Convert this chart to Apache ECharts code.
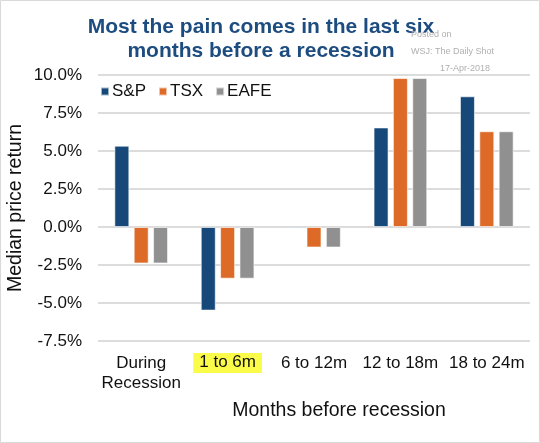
<!DOCTYPE html>
<html><head><meta charset="utf-8">
<script src="https://cdn.jsdelivr.net/npm/echarts@6/dist/echarts.min.js"></script>
<style>html,body{margin:0;padding:0;background:#fff}#c{width:540px;height:443px}</style>
</head><body><div id="c"></div>
<script>
const categories = ['During\nRecession', '1 to 6m', '6 to 12m', '12 to 18m', '18 to 24m'];
const spValues = [5.35, -5.5, -0.1, 6.55, 8.6];
const tsxValues = [-2.4, -3.4, -1.35, 9.8, 6.3];
const eafeValues = [-2.4, -3.4, -1.35, 9.8, 6.3];
const seriesNames = ['S&P', 'TSX', 'EAFE'];
const colors = ['#164879', '#dd6a26', '#909090'];

const chart = echarts.init(document.getElementById('c'));
const font = 'Liberation Sans, Arial, sans-serif';
const mk = (name, data, color) => ({
  name, type: 'bar', data, barWidth: 15, barGap: '29%',
  itemStyle: { color, borderColor: 'rgba(255,255,255,0.6)', borderWidth: 1 }
});
const wm = { fontFamily: font, fontSize: 9, fontWeight: 'normal', color: '#b0b0b0' };
chart.setOption({
  animation: false,
  color: colors,
  title: [
    { text: 'Most the pain comes in the last six\nmonths before a recession', left: 256, top: 10, textAlign: 'center',
      textStyle: { fontFamily: font, fontSize: 21, fontWeight: 'bold', color: '#1d4d80', lineHeight: 24 } },
    { text: 'Posted on', left: 406, top: 25, textStyle: wm },
    { text: 'WSJ: The Daily Shot', left: 406, top: 42, textStyle: wm },
    { text: '17-Apr-2018', right: 45, top: 59, textStyle: wm },
    { text: 'Months before recession', left: 334, top: 396, textAlign: 'center',
      textStyle: { fontFamily: font, fontSize: 19.5, fontWeight: 'normal', color: '#111' } }
  ],
  legend: {
    data: seriesNames, left: 95, top: 78, itemWidth: 8, itemHeight: 8, itemGap: 12,
    icon: 'rect', textStyle: { fontFamily: font, fontSize: 17, color: '#111', padding: [0, 0, 0, -2] }
  },
  grid: { left: 98, right: 10, top: 75, bottom: 102, containLabel: false, outerBoundsMode: 'none' },
  xAxis: {
    type: 'category', data: categories,
    axisLine: { show: false }, axisTick: { show: false },
    axisLabel: {
      interval: 0, margin: 12, fontFamily: font, fontSize: 17, color: '#111', lineHeight: 20,
      formatter: v => v === '1 to 6m' ? '{hl|' + v + '}' : v,
      rich: { hl: { backgroundColor: '#fbfb4a', padding: [1, 6, 2, 6], fontFamily: font, fontSize: 17, color: '#111', lineHeight: 20 } }
    }
  },
  yAxis: {
    type: 'value', min: -7.5, max: 10, interval: 2.5,
    axisLabel: { fontFamily: font, fontSize: 17, color: '#111', margin: 16, formatter: v => v.toFixed(1) + '%' },
    splitLine: { lineStyle: { color: '#dcdcdc', width: 2 } },
    axisLine: { show: false }, axisTick: { show: false }
  },
  graphic: [
    { type: 'rect', shape: { x: 0.5, y: 0.5, width: 539, height: 442 }, style: { fill: 'none', stroke: '#d9d9d9', lineWidth: 1 }, silent: true },
    { type: 'text', x: 16, y: 208, rotation: Math.PI / 2, silent: true,
      style: { text: 'Median price return', font: '19.5px ' + font, fill: '#111', align: 'center', verticalAlign: 'middle' } }
  ],
  series: [mk(seriesNames[0], spValues, colors[0]), mk(seriesNames[1], tsxValues, colors[1]), mk(seriesNames[2], eafeValues, colors[2])]
});
</script></body></html>
